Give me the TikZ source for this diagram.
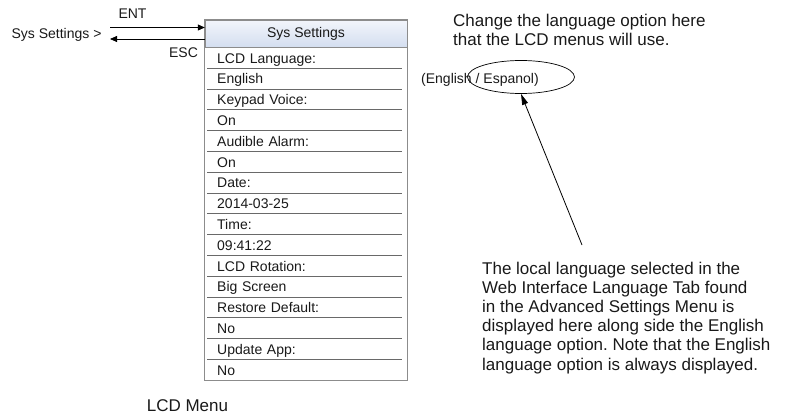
\documentclass[tikz,border=0pt]{standalone}
\usepackage{fontspec}
\setmainfont{Liberation Sans}
\usepackage{tikz}
\usetikzlibrary{arrows.meta,shapes.geometric}
\definecolor{framegray}{RGB}{140,140,140}
\definecolor{rulegray}{RGB}{105,105,105}
\definecolor{headtop}{RGB}{242,245,251}
\definecolor{headbot}{RGB}{212,222,240}
\definecolor{inkgray}{RGB}{25,25,25}
\newcommand{\menufs}{\fontsize{14}{16}\selectfont}
\newcommand{\notefs}{\fontsize{17}{19.2}\selectfont}
\frenchspacing

\begin{document}
\begin{tikzpicture}[x=1pt,y=-1pt,
    every node/.style={text=inkgray, inner sep=0pt},
    navarrow/.style={-{Triangle[length=7pt,width=6pt]}, line width=0.8pt},
    headbox/.style={draw=framegray, top color=headtop, bottom color=headbot,
      minimum width=202, minimum height=27, text height=10pt, text depth=2pt, font=\menufs},
    rowbox/.style={anchor=north west, minimum height=20.8, text width=175,
      inner xsep=10pt, text height=12pt, text depth=1pt, align=left, font=\menufs}]
    \useasboundingbox (0,0) rectangle (785,415);
    % entry in the parent menu
    \node[anchor=base, font=\menufs] (sysentry) at (56.5,38) {Sys Settings >};
    \node[anchor=base, font=\menufs] (entlabel) at (132.5,19) {ENT};
    \node[anchor=base, font=\menufs] (esclabel) at (183.5,57) {ESC};
    % the menu screen
    \node[headbox] (menuhead) at (306,33.5) {Sys Settings};
    \foreach \txt [count=\i] in {LCD Language:, English, Keypad Voice:, On,
        Audible Alarm:, On, Date:, 2014-03-25, Time:, 09:41:22, LCD Rotation:,
        Big Screen, Restore Default:, No, Update App:, No}
      \node[rowbox] (row\i) at (207,{26.2+20.8*\i}) {\txt};
    \foreach \i in {1,...,15}
      \draw[rulegray, line width=0.8pt] (row\i.south west) -- (row\i.south east);
    \draw[framegray, line width=1pt] (menuhead.north west) rectangle (menuhead.east |- row16.south);
    \node[anchor=base, font=\notefs] (menucap) at (187.5,411) {LCD Menu};
    % ENT / ESC
    \coordinate (entfrom) at (110,27.5);
    \coordinate (escto) at (110,39);
    \draw[navarrow] (entfrom) -- (entfrom -| menuhead.west);
    \draw[navarrow] (escto -| menuhead.west) -- (escto);
    % language choice
    \node[anchor=north west, align=left, font=\notefs] (langnote) at (453,13.5)
      {Change the language option here\\that the LCD menus will use.};
    \node[anchor=base west, font=\menufs] (langopts) at (421,83) {(English / Espanol)};
    \node[draw=black, ellipse, line width=0.7pt, minimum width=107, minimum height=33] (pick) at (521,77) {};
    \node[anchor=north west, align=left, font=\notefs] (localnote) at (482,261.5)
      {The local language selected in the\\Web Interface Language Tab found\\in the Advanced Settings Menu is\\displayed here along side the English\\language option. Note that the English\\language option is always displayed.};
    \coordinate (notetip) at (582,245);
    \draw[line width=0.8pt, -{Triangle[length=11pt,width=6pt]}] (notetip) -- (pick.south);
\end{tikzpicture}
\end{document}
